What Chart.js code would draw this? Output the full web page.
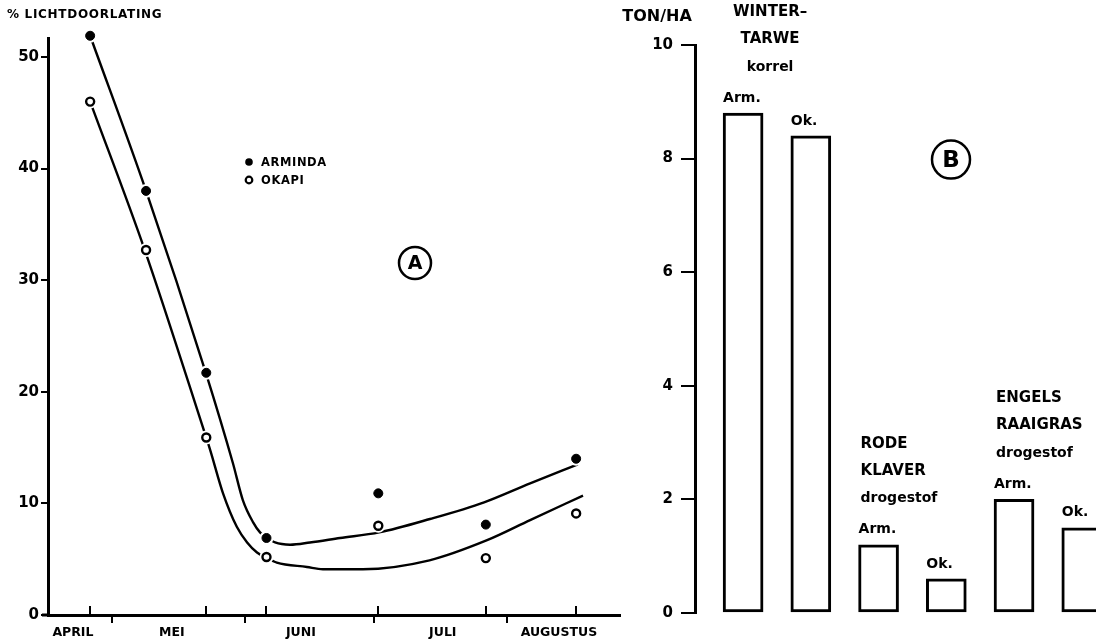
<!DOCTYPE html>
<html><head><meta charset="utf-8">
<script src="https://cdn.jsdelivr.net/npm/chart.js@4.4.1/dist/chart.umd.min.js"></script>
<style>
html,body{margin:0;padding:0;background:#fff;overflow:hidden;width:1096px;height:644px;}
#wa{position:absolute;left:0;top:0;width:640px;height:644px;}
#wb{position:absolute;left:560px;top:0;width:536px;height:644px;}
</style></head><body>
<div id="wa"><canvas id="ca"></canvas></div>
<div id="wb"><canvas id="cb"></canvas></div>
<script>
// ---------- Panel A: light transmission (%), x = days after 1 April ----------
const axisTitleA = '% LICHTDOORLATING';
const sampleDays = [25, 38, 52, 66, 92, 117, 138];
const arminda = [51.9, 38.0, 21.7, 6.9, 10.9, 8.1, 14.0];
const okapi   = [46.0, 32.7, 15.9, 5.2, 8.0, 5.1, 9.1];
const armindaCurveDays = [25, 38, 51.9, 58.2, 60.5, 62.9, 64.5, 66, 68, 71.5, 76.1, 83.1, 92.2, 104, 116.6, 127.3, 138.4];
const armindaCurve     = [51.9, 38.0, 21.7, 13.6, 10.3, 8.3, 7.4, 6.95, 6.5, 6.3, 6.5, 6.9, 7.4, 8.6, 10.1, 11.8, 13.5];
const okapiCurveDays = [25, 37.7, 51.9, 52.9, 55.9, 59.1, 61.5, 63.8, 66.1, 68.4, 75.4, 79.1, 88.4, 103.9, 117.3, 127.3, 139.6];
const okapiCurve     = [46.0, 32.7, 16.0, 14.8, 10.9, 7.9, 6.5, 5.6, 5.1, 4.7, 4.3, 4.1, 4.1, 4.9, 6.7, 8.5, 10.7];
const yTicksA = [0, 10, 20, 30, 40, 50];
const monthStartDays = [30, 61, 91, 122];
const monthLabelDays = [21, 44, 74, 107, 134];
const monthLabels = ['APRIL', 'MEI', 'JUNI', 'JULI', 'AUGUSTUS'];
const upTickDays = [25, 52, 66, 92, 117, 138];
const legendNames = ['ARMINDA', 'OKAPI'];

// ---------- Panel B: yield (ton/ha) ----------
const axisTitleB = 'TON/HA';
const cropGroups = [['WINTER\u2013', 'TARWE', 'korrel'], ['RODE', 'KLAVER', 'drogestof'], ['ENGELS', 'RAAIGRAS', 'drogestof']];
const barLabels = ['Arm.', 'Ok.', 'Arm.', 'Ok.', 'Arm.', 'Ok.'];
const barValues = [8.8, 8.4, 1.2, 0.6, 2.0, 1.5];
const yTicksB = [0, 2, 4, 6, 8, 10];

const FONT = '"DejaVu Sans", sans-serif';
const toPts = (xs, ys) => xs.map((x, i) => ({x: x, y: ys[i]}));

function circled(ctx, cx, cy, r, letter, size) {
  ctx.save();
  ctx.lineWidth = 2.5; ctx.strokeStyle = '#000'; ctx.fillStyle = '#000';
  ctx.beginPath(); ctx.arc(cx, cy, r, 0, Math.PI * 2); ctx.stroke();
  ctx.font = 'bold ' + size + 'px ' + FONT;
  ctx.textAlign = 'center'; ctx.textBaseline = 'middle';
  ctx.fillText(letter, cx, cy + 1);
  ctx.restore();
}

const decorA = {
  id: 'decorA',
  afterDatasetsDraw(chart) {
    const {ctx, chartArea: a, scales: {x}} = chart;
    ctx.save();
    ctx.strokeStyle = '#000'; ctx.lineWidth = 2;
    upTickDays.forEach(d => {
      const px = Math.round(x.getPixelForValue(d));
      ctx.beginPath(); ctx.moveTo(px, a.bottom); ctx.lineTo(px, a.bottom - 9); ctx.stroke();
    });
    ctx.lineWidth = 3;
    ctx.beginPath(); ctx.moveTo(a.left - 6, a.bottom); ctx.lineTo(a.left, a.bottom); ctx.stroke();
    ctx.fillStyle = '#000';
    ctx.textBaseline = 'middle'; ctx.textAlign = 'left';
    ctx.font = 'bold 12px ' + FONT;
    ctx.letterSpacing = '0.7px';
    ctx.fillText(axisTitleA, a.left - 41, a.top - 23);
    const lx = a.left + 201, ly = [a.top + 124, a.top + 142];
    ctx.beginPath(); ctx.arc(lx, ly[0], 3.8, 0, Math.PI * 2); ctx.fill();
    ctx.beginPath(); ctx.arc(lx, ly[1], 3.3, 0, Math.PI * 2); ctx.lineWidth = 2.2; ctx.stroke();
    ctx.font = 'bold 11.5px ' + FONT;
    ctx.letterSpacing = '0.6px';
    ctx.fillText(legendNames[0], lx + 12, ly[0] + 1);
    ctx.fillText(legendNames[1], lx + 12, ly[1] + 1);
    ctx.letterSpacing = '0px';
    ctx.restore();
    circled(ctx, a.left + 367, a.top + 225, 16, 'A', 19);
  }
};

new Chart(document.getElementById('ca'), {
  type: 'line',
  data: {
    datasets: [
      {label: 'fitA', data: toPts(armindaCurveDays, armindaCurve), borderColor: '#000', borderWidth: 2.4, pointRadius: 0, cubicInterpolationMode: 'monotone', fill: false, clip: false, order: 5},
      {label: 'fitO', data: toPts(okapiCurveDays, okapiCurve), borderColor: '#000', borderWidth: 2.4, pointRadius: 0, cubicInterpolationMode: 'monotone', fill: false, clip: false, order: 5},
      {label: 'haloA', data: toPts(sampleDays, arminda), showLine: false, pointRadius: 7, pointBackgroundColor: '#fff', pointBorderWidth: 0, clip: false, order: 3},
      {label: 'haloO', data: toPts(sampleDays, okapi), showLine: false, pointRadius: 7, pointBackgroundColor: '#fff', pointBorderWidth: 0, clip: false, order: 3},
      {label: legendNames[0], data: toPts(sampleDays, arminda), showLine: false, pointRadius: 4.5, pointBackgroundColor: '#000', pointBorderColor: '#000', pointBorderWidth: 1, clip: false, order: 1},
      {label: legendNames[1], data: toPts(sampleDays, okapi), showLine: false, pointRadius: 4, pointBackgroundColor: '#fff', pointBorderColor: '#000', pointBorderWidth: 2.4, clip: false, order: 1}
    ]
  },
  options: {
    responsive: true, maintainAspectRatio: false, animation: false,
    layout: {padding: {top: 38, right: 20, left: 0, bottom: 0}},
    plugins: {legend: {display: false}, tooltip: {enabled: false}},
    elements: {point: {hoverRadius: 0}},
    scales: {
      x: {
        type: 'linear', min: 15.2, max: 148.2,
        afterBuildTicks: s => {
          const t = monthStartDays.map(v => ({value: v})).concat(monthLabelDays.map(v => ({value: v})));
          t.sort((p, q) => p.value - q.value);
          s.ticks = t;
        },
        afterFit: s => { s.height = 29; },
        grid: {drawOnChartArea: false, drawTicks: true, tickLength: 8, lineWidth: 2,
               color: c => (c.tick && monthStartDays.includes(c.tick.value)) ? '#000' : 'rgba(0,0,0,0)'},
        border: {display: true, color: '#000', width: 3},
        ticks: {
          autoSkip: false, maxRotation: 0, padding: 2, color: '#000',
          font: {family: FONT, weight: 'bold', size: 12.5},
          callback: v => { const i = monthLabelDays.indexOf(v); return i >= 0 ? monthLabels[i] : ''; }
        }
      },
      y: {
        min: 0, max: 51.7,
        afterBuildTicks: s => { s.ticks = yTicksA.map(v => ({value: v})); },
        afterFit: s => { s.width = 48; },
        grid: {drawOnChartArea: false, drawTicks: true, tickLength: 7, lineWidth: 2, color: '#000'},
        border: {display: true, color: '#000', width: 3},
        ticks: {color: '#000', padding: 2, font: {family: FONT, weight: 'bold', size: 15}}
      }
    }
  },
  plugins: [decorA]
});

// ---------- Panel B ----------
const decorB = {
  id: 'decorB',
  afterDatasetsDraw(chart) {
    const {ctx, chartArea: a, scales: {y}} = chart;
    const bars = chart.getDatasetMeta(0).data;
    ctx.save();
    ctx.fillStyle = '#000'; ctx.textBaseline = 'middle';
    ctx.font = 'bold 16px ' + FONT; ctx.textAlign = 'center';
    ctx.fillText(axisTitleB, a.left - 38, 17);
    bars.forEach((b, i) => {
      const left = b.x - b.width / 2;
      ctx.textAlign = 'left';
      ctx.font = 'bold 14px ' + FONT;
      ctx.fillText(barLabels[i], left, b.y - 15);
      if (i % 2 === 0) {
        const g = cropGroups[i / 2];
        const offs = [-101, -74, -46];
        const centered = (i === 0);
        ctx.textAlign = centered ? 'center' : 'left';
        const gx = centered ? left + 47 : left + 2;
        g.forEach((txt, k) => {
          ctx.font = (k < 2 ? 'bold 15px ' : 'bold 14px ') + FONT;
          ctx.fillText(txt, gx, b.y + offs[k]);
        });
      }
    });
    ctx.restore();
    circled(ctx, a.left + 256, y.getPixelForValue(8) + 1, 19, 'B', 23);
  }
};

new Chart(document.getElementById('cb'), {
  type: 'bar',
  data: {
    datasets: [{
      data: toPts(barValues.map((v, i) => i + 1), barValues),
      backgroundColor: '#fff', borderColor: '#000', borderWidth: 3, borderSkipped: false, barThickness: 40
    }]
  },
  options: {
    responsive: true, maintainAspectRatio: false, animation: false,
    layout: {padding: {top: 45, bottom: 31, left: 0, right: 0}},
    plugins: {legend: {display: false}, tooltip: {enabled: false}},
    scales: {
      x: {type: 'linear', min: 0.29, max: 6.21, offset: false, display: false},
      y: {
        min: 0, max: 10,
        afterBuildTicks: s => { s.ticks = yTicksB.map(v => ({value: v})); },
        afterFit: s => { s.width = 135; },
        grid: {drawOnChartArea: false, drawTicks: true, tickLength: 14, lineWidth: 2, color: '#000'},
        border: {display: true, color: '#000', width: 3},
        ticks: {color: '#000', padding: 8, font: {family: FONT, weight: 'bold', size: 15}}
      }
    }
  },
  plugins: [decorB]
});
</script>
</body></html>
